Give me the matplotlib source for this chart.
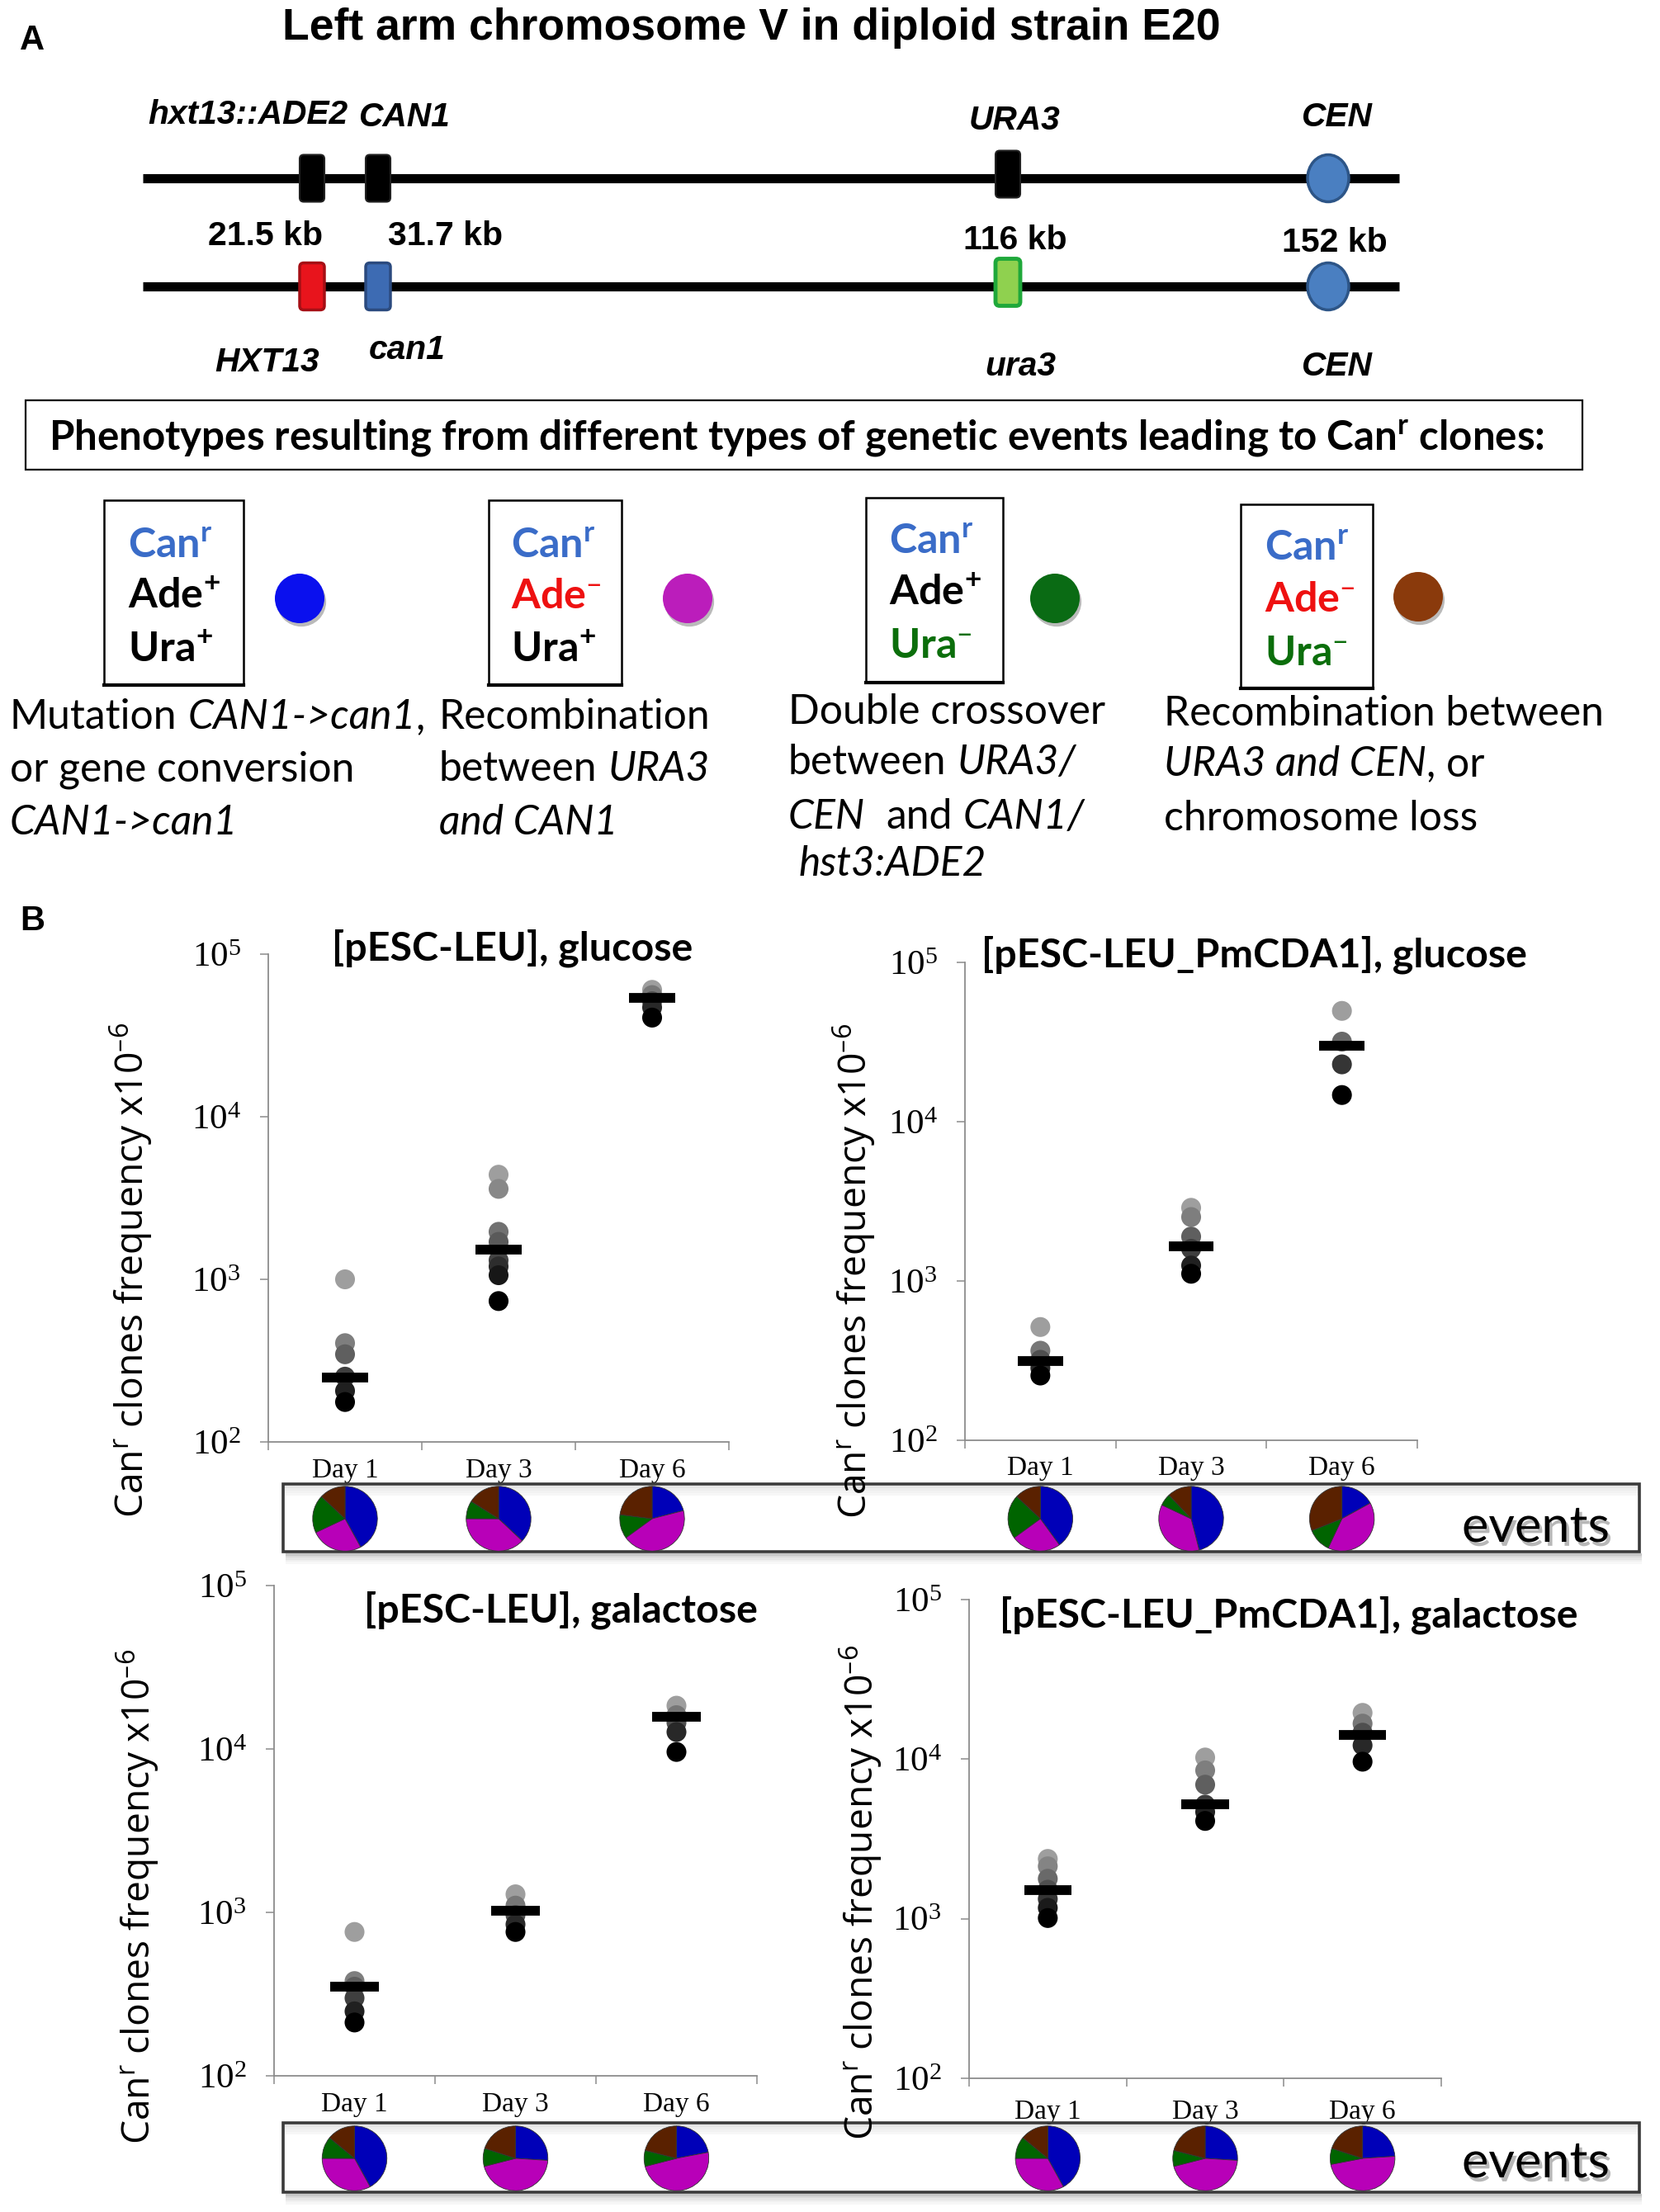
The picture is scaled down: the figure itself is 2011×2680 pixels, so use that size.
import numpy as np
import matplotlib
matplotlib.use("Agg")
import matplotlib.pyplot as plt
from matplotlib.patches import Rectangle, FancyBboxPatch, Ellipse, Circle
from matplotlib.ticker import NullLocator
import matplotlib.patheffects as pe

W, H = 2011, 2680
DPI = 100

# ---------------- data ----------------
days = ["Day 1", "Day 3", "Day 6"]
titles = ["[pESC-LEU], glucose", "[pESC-LEU_PmCDA1], glucose",
          "[pESC-LEU], galactose", "[pESC-LEU_PmCDA1], galactose"]

# Can^r clone frequency (x10^-6), one list per day
glc_leu = [[1000, 405, 346, 252, 206, 176],
           [4400, 3600, 1960, 1700, 1310, 1200, 1060, 735],
           [60300, 56000, 51300, 47000, 40700]]
glc_leu_mid = [249, 1530, 53700]

glc_cda = [[514, 365, 320, 284, 255],
           [2880, 2520, 1900, 1590, 1250, 1110],
           [49600, 31800, 22900, 14700]]
glc_cda_mid = [316, 1660, 30000]

gal_leu = [[759, 380, 351, 299, 248, 212],
           [1290, 1100, 963, 844, 759],
           [18400, 16100, 14500, 12700, 9590]]
gal_leu_mid = [351, 1027, 15700]

gal_cda = [[2370, 2130, 1780, 1520, 1330, 1170, 1010],
           [10240, 8500, 6920, 5190, 4670, 4100],
           [19500, 16700, 14650, 12200, 9640]]
gal_cda_mid = [1520, 5190, 14100]

# event fractions (%): mutation, URA3-CAN1 recomb., double crossover, URA3-CEN / loss
pie_glc_leu = [[42, 26, 19, 13], [37, 38, 9, 16], [21, 44, 12, 23]]
pie_glc_cda = [[40, 25, 22, 13], [46, 36, 6, 12], [17, 40, 12, 31]]
pie_gal_leu = [[42, 33, 11, 14], [26, 45, 9, 20], [22, 49, 8, 21]]
pie_gal_cda = [[42, 33, 11, 14], [26, 45, 8, 21], [24, 48, 8, 20]]

top_genes = ["hxt13::ADE2", "CAN1", "URA3", "CEN"]
kb_labels = ["21.5 kb", "31.7 kb", "116 kb", "152 kb"]
bottom_genes = ["HXT13", "can1", "ura3", "CEN"]

pheno_colors = ["#0a10ee", "#bb1dbb", "#0a6b14", "#8a3a0c"]
pie_colors = ["#0000b8", "#b800b8", "#006400", "#5a2100"]

DASH = "\u2013"

# ---------------- figure ----------------
fig = plt.figure(figsize=(W / DPI, H / DPI), dpi=DPI)
ov = fig.add_axes([0, 0, 1, 1])
ov.set_xlim(0, W)
ov.set_ylim(H, 0)
ov.axis("off")
ov.set_zorder(5)
R = fig.canvas.get_renderer()


def text_w(s, size, **kw):
    t = ov.text(0, 0, s, fontsize=size, **kw)
    w = t.get_window_extent(R).width
    t.remove()
    return w


def fit(s, target, **kw):
    return 30 * target / text_w(s, 30, **kw)


def seg_line(x, y, parts, size, **kw):
    sp = text_w("a a", size, **kw) - text_w("aa", size, **kw)
    for s, st in parts:
        core = s.strip(" ")
        x += (len(s) - len(s.lstrip(" "))) * sp
        t = ov.text(x, y, core, fontsize=size, style=st, va="baseline", **kw)
        x += t.get_window_extent(R).width
        x += (len(s) - len(s.rstrip(" "))) * sp


SANS_B = dict(family="Liberation Sans", weight="bold")

# ---------------- panel A ----------------
ov.text(24, 60, "A", fontsize=fit("A", 30, **SANS_B), va="baseline", **SANS_B)
ov.text(24, 1127, "B", fontsize=fit("B", 30, **SANS_B), va="baseline", **SANS_B)

ttl = "Left arm chromosome V in diploid strain E20"
ov.text(910, 48, ttl, fontsize=fit(ttl, 1136, **SANS_B), ha="center", va="baseline", **SANS_B)

gene_x = [378, 458, 1221, 1609]
for yl in (216, 347):
    ov.plot([173, 1695], [yl, yl], color="black", lw=8, solid_capstyle="butt", zorder=1)


def gene_box(x, y, fc, ec, h=57, w=30, lw=1.5):
    ov.add_patch(FancyBboxPatch((x - w / 2, y - h / 2), w, h,
                                boxstyle="round,pad=0,rounding_size=5",
                                fc=fc, ec=ec, lw=lw, zorder=2))


gene_box(gene_x[0], 216, "black", "#222222")
gene_box(gene_x[1], 216, "black", "#222222")
gene_box(gene_x[2], 211, "black", "#222222")
gene_box(gene_x[0], 347, "#e8141c", "#a50f15", lw=2.5)
gene_box(gene_x[1], 347, "#3d6bb3", "#2b4a7e", lw=2.5)
gene_box(gene_x[2], 342, "#8fd14f", "#1fa83a", lw=3.5)
for yc in (216, 347):
    ov.add_patch(Ellipse((gene_x[3], yc), 50, 57, fc="#4a7fc1", ec="#2d5587", lw=2.5, zorder=2))

GI = dict(family="Liberation Sans", weight="bold", style="italic")
gsize = fit("hxt13::ADE2", 242, **GI)
for s, x, y in zip(top_genes, [300, 489, 1229, 1619], [150, 153, 157, 153]):
    ov.text(x, y, s, fontsize=gsize, ha="center", va="baseline", **GI)
for s, x, y in zip(bottom_genes, [324, 493, 1236, 1619], [450, 435, 455, 455]):
    ov.text(x, y, s, fontsize=gsize, ha="center", va="baseline", **GI)
ksize = fit("21.5 kb", 139, **SANS_B)
for s, x, y in zip(kb_labels, [322, 540, 1230, 1617], [297, 297, 302, 305]):
    ov.text(x, y, s, fontsize=ksize, ha="center", va="baseline", **SANS_B)

# phenotype header
ov.add_patch(Rectangle((31, 485), 1886, 84, fc="white", ec="black", lw=1.6, zorder=1))
LB = dict(family="Lato", weight="bold")
hdr = r"Phenotypes resulting from different types of genetic events leading to Can$^{\mathregular{r}}$ clones:"
ov.text(59, 545, hdr, fontsize=fit(hdr, 1812, **LB), va="baseline", **LB)

# phenotype boxes
boxes = [(126, 295, 606, 830), (592, 753, 606, 830), (1049, 1215, 603, 827), (1503, 1663, 611, 834)]
txt_x = [155, 619, 1077, 1532]
base_rows = [(676, 737, 802), (676, 737, 802), (671, 733, 797), (679, 741, 806)]
ade_sign = ["+", DASH, "+", DASH]
ura_sign = ["+", "+", DASH, DASH]
ade_col = ["black", "#ee1111", "black", "#ee1111"]
ura_col = ["black", "black", "#0b6e0b", "#0b6e0b"]
circ_xy = [(363, 725), (833, 725), (1278, 725), (1718, 723)]
bsize = fit("Ade", 90, **LB)
for k in range(4):
    x0, x1, y0, y1 = boxes[k]
    ov.add_patch(Rectangle((x0, y0), x1 - x0, y1 - y0, fc="white", ec="black", lw=1.8, zorder=1))
    ov.plot([x0, x1], [y1, y1], color="black", lw=3, zorder=1)
    b1, b2, b3 = base_rows[k]
    ov.text(txt_x[k], b1, r"Can$^{\mathregular{r}}$", fontsize=bsize, color="#3a6cc8", va="baseline", **LB)
    ov.text(txt_x[k], b2, r"Ade$^{\mathregular{%s}}$" % ade_sign[k], fontsize=bsize,
            color=ade_col[k], va="baseline", **LB)
    ov.text(txt_x[k], b3, r"Ura$^{\mathregular{%s}}$" % ura_sign[k], fontsize=bsize,
            color=ura_col[k], va="baseline", **LB)
    ov.add_patch(Circle(circ_xy[k], 30, fc=pheno_colors[k], ec="none", zorder=2,
                        path_effects=[pe.withSimplePatchShadow(offset=(1.5, -3), shadow_rgbFace="0.4", alpha=0.45)]))

desc = [
    [[("Mutation ", "normal"), ("CAN1->can1", "italic"), (",", "normal")],
     [("or gene conversion", "normal")],
     [("CAN1->can1", "italic")]],
    [[("Recombination", "normal")],
     [("between ", "normal"), ("URA3", "italic")],
     [("and CAN1", "italic")]],
    [[("Double crossover", "normal")],
     [("between ", "normal"), ("URA3/", "italic")],
     [("CEN", "italic"), ("  and ", "normal"), ("CAN1/", "italic")],
     [(" hst3:ADE2", "italic")]],
    [[("Recombination between", "normal")],
     [("URA3 and CEN", "italic"), (", or", "normal")],
     [("chromosome loss", "normal")]],
]
desc_x = [12, 532, 955, 1410]
desc_base = [[883, 946, 1011], [883, 946, 1011], [877, 938, 1004, 1061], [879, 940, 1006]]
LR = dict(family="Lato")
dsize = fit("Recombination between", 532, **LR)
for k in range(4):
    for parts, yb in zip(desc[k], desc_base[k]):
        seg_line(desc_x[k], yb, parts, dsize, **LR)

# ---------------- panel B ----------------
ax_box = [(325, 883, 1156, 1747), (1169, 1717, 1166, 1745),
          (332, 917, 1921, 2515), (1174, 1746, 1938, 2518)]
title_pos = [(402, 1164), (1189, 1172), (441, 1966), (1211, 1971)]
ylab_pos = [(159, 1539), (1035, 1540), (167, 2298), (1043, 2293)]
day_pad = [14, 13, 14, 18]
pie_y = [1840, 1840, 2615, 2615]
series = [(glc_leu, glc_leu_mid, pie_glc_leu), (glc_cda, glc_cda_mid, pie_glc_cda),
          (gal_leu, gal_leu_mid, pie_gal_leu), (gal_cda, gal_cda_mid, pie_gal_cda)]

tsize = fit(titles[0], 437, **LB)
OS = dict(family="Open Sans")
ylab = r"Can$^{\mathregular{r}}$ clones frequency x10$^{\mathregular{%s6}}$" % DASH
ysize = fit(ylab, 600, **OS)
SER = "Liberation Serif"


def shadow_box(x0, y0, x1, y1):
    for k, a in enumerate([0.22, 0.15, 0.10, 0.06, 0.03]):
        ov.add_patch(Rectangle((x0 + 3, y1 + 2 + 2.5 * k), x1 - x0, 2.5, fc="black", alpha=a, lw=0, zorder=1))
    for k, a in enumerate([0.10, 0.07, 0.05, 0.03]):
        ov.add_patch(Rectangle((x0, y0 + 2 + 3 * k), x1 - x0, 3, fc="black", alpha=a, lw=0, zorder=1))
    ov.add_patch(Rectangle((x0, y0), x1 - x0, y1 - y0, fc="none", ec="#3a3a3a", lw=2.6, zorder=2))


shadow_box(343, 1798, 1986, 1880)
shadow_box(343, 2572, 1986, 2656)
ER = dict(family="Lato")
esize = fit("events", 179, **ER)
for yb in (1868, 2638):
    ov.text(1771, yb, "events", fontsize=esize, va="baseline", **ER,
            path_effects=[pe.withSimplePatchShadow(offset=(2.5, -3.5), shadow_rgbFace="0.3", alpha=0.4)])

for p in range(4):
    vals, mids, pies = series[p]
    l, r, t, b = ax_box[p]
    ax = fig.add_axes([l / W, 1 - b / H, (r - l) / W, (b - t) / H])
    ax.set_zorder(1)
    ax.patch.set_alpha(0)
    for i, col in enumerate(vals):
        col = sorted(col, reverse=True)
        greys = np.linspace(0.62, 0.0, len(col))
        ax.scatter(np.full(len(col), i + 0.5), col, s=300, color=[str(g) for g in greys],
                   edgecolors="none", zorder=2, clip_on=False)
    ax.hlines(mids, np.arange(3) + 0.35, np.arange(3) + 0.65, colors="black", lw=8.5, zorder=3)
    ax.set_yscale("log")
    ax.set_ylim(1e2, 1e5)
    ax.set_xlim(0, 3)
    ax.yaxis.set_minor_locator(NullLocator())
    ax.set_yticks([1e2, 1e3, 1e4, 1e5])
    ax.set_yticklabels([r"$\mathregular{10^{%d}}$" % k for k in range(2, 6)], fontfamily=SER, fontsize=31)
    ax.set_xticks([0, 1, 2, 3])
    ax.set_xticklabels([])
    ax.set_xticks([0.5, 1.5, 2.5], minor=True)
    ax.set_xticklabels(days, minor=True, fontfamily=SER, fontsize=24)
    ax.tick_params(axis="x", which="minor", length=0, pad=day_pad[p])
    ax.tick_params(axis="x", which="major", length=7, width=1.1, color="#8c8c8c")
    ax.tick_params(axis="y", which="major", length=7, width=1.1, color="#8c8c8c", pad=17)
    ax.spines[["top", "right"]].set_visible(False)
    for sp in ("left", "bottom"):
        ax.spines[sp].set_color("#8c8c8c")
        ax.spines[sp].set_linewidth(1.3)

    ov.text(title_pos[p][0], title_pos[p][1], titles[p], fontsize=tsize, va="baseline", **LB)
    ov.text(ylab_pos[p][0], ylab_pos[p][1], ylab, fontsize=ysize, rotation=90,
            ha="center", va="center", **OS)

    rr = 40
    for i, fr in enumerate(pies):
        cx = ax.transData.transform((i + 0.5, 1e3))[0]
        cy = pie_y[p]
        pa = fig.add_axes([(cx - rr) / W, 1 - (cy + rr) / H, 2 * rr / W, 2 * rr / H])
        pa.set_zorder(6)
        wedges, _ = pa.pie(fr, colors=pie_colors, startangle=90, counterclock=False,
                           wedgeprops=dict(edgecolor="#333333", linewidth=0.6))
        for w in wedges:
            w.set_clip_on(False)
        pa.set_xlim(-1.02, 1.02)
        pa.set_ylim(-1.02, 1.02)

fig.savefig("out.png", dpi=DPI, facecolor="white")
